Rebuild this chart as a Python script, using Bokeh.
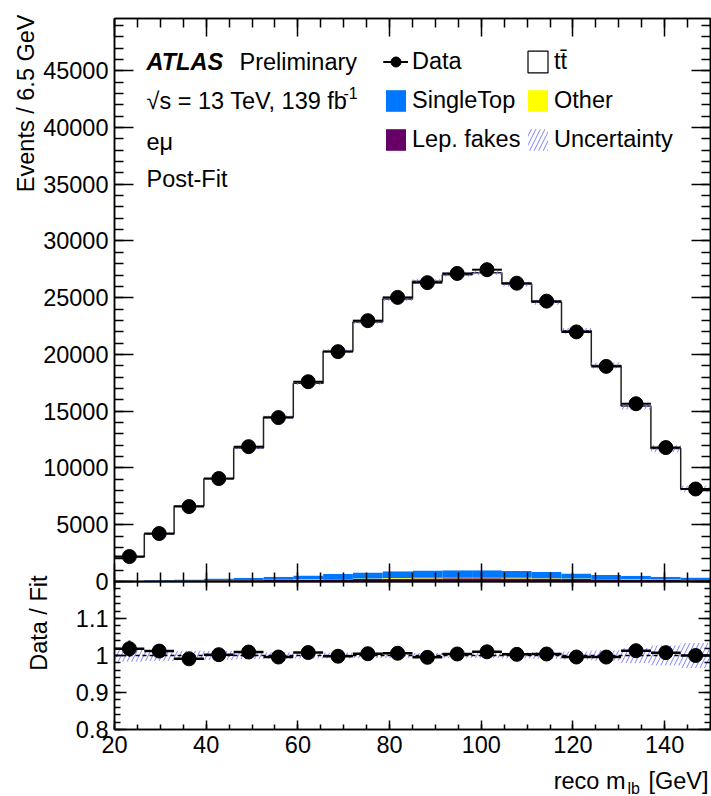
import numpy as np
from bokeh.plotting import figure
from bokeh.layouts import column
from bokeh.models import (Range1d, SingleIntervalTicker, LinearAxis, Label, Legend, LegendItem,
                          CustomJSTickFormatter, BasicTickFormatter, Span, ColumnDataSource, Title)
from bokeh.embed import file_html
from bokeh.resources import INLINE

# ---------------- data ----------------
bin_edges = [20.0, 26.5, 33.0, 39.5, 46.0, 52.5, 59.0, 65.5, 72.0, 78.5, 85.0,
             91.5, 98.0, 104.5, 111.0, 117.5, 124.0, 130.5, 137.0, 143.5, 150.0]
data_counts = [2200, 4225, 6600, 9070, 11880, 14440, 17600, 20250, 22980, 25030,
               26330, 27140, 27470, 26280, 24700, 21990, 18950, 15660, 11800, 8150]
ttbar = [2110, 4075, 6480, 8790, 11440, 14080, 16940, 19640, 22070, 23980,
         25480, 26030, 26200, 25280, 23770, 21380, 18450, 14960, 11290, 7800]
single_top = [20, 50, 100, 160, 200, 260, 320, 420, 530, 600,
              660, 670, 670, 600, 540, 440, 360, 310, 250, 210]
other = [10, 10, 20, 20, 30, 30, 40, 40, 50, 50,
         50, 50, 50, 50, 40, 40, 30, 30, 30, 20]
lep_fakes = [20, 40, 60, 80, 100, 130, 160, 190, 220, 250,
             270, 280, 280, 270, 250, 220, 190, 160, 140, 120]
rel_unc = [0.017, 0.015, 0.013, 0.012, 0.010, 0.009, 0.008, 0.008, 0.007, 0.007,
           0.007, 0.007, 0.007, 0.008, 0.009, 0.011, 0.014, 0.020, 0.027, 0.034]

# ---------------- style ----------------
FONT = "Liberation Sans"
FS = "23.5px"
FS_SMALL = "16px"
BLUE = "#0077ff"
YELLOW = "#ffff00"
PURPLE = "#660066"
HATCH = "#8080ff"

edges = np.array(bin_edges)
left = edges[:-1]
right = edges[1:]
centers = 0.5 * (left + right)
fk = np.array(lep_fakes, dtype=float)
ot = np.array(other, dtype=float)
st = np.array(single_top, dtype=float)
tt = np.array(ttbar, dtype=float)
d = np.array(data_counts, dtype=float)
unc = np.array(rel_unc)

b1 = fk
b2 = b1 + ot
b3 = b2 + st
total = b3 + tt
ratio = d / total
ratio_err = np.sqrt(d) / total

src = ColumnDataSource(dict(
    left=left, right=right, centers=centers, zero=np.zeros_like(total),
    fk_top=b1, ot_top=b2, st_top=b3, tot=total,
    data=d, d_lo=d - np.sqrt(d), d_hi=d + np.sqrt(d),
    band_lo=total * (1 - unc), band_hi=total * (1 + unc),
    ratio=ratio, r_lo=ratio - ratio_err, r_hi=ratio + ratio_err,
    rb_lo=1 - unc, rb_hi=1 + unc,
))


def make_axis(ticker, labels, tick_in, minor_in, formatter=None):
    ax = LinearAxis(ticker=ticker,
                    axis_line_color="black", axis_line_width=1.5,
                    major_tick_in=tick_in, major_tick_out=0,
                    minor_tick_in=minor_in, minor_tick_out=0,
                    major_tick_line_color="black", minor_tick_line_color="black",
                    major_tick_line_width=1.5, minor_tick_line_width=1.5,
                    major_label_text_font=FONT,
                    major_label_text_color="black")
    if labels:
        ax.major_label_text_font_size = FS
        ax.major_label_standoff = 6
        if formatter is not None:
            ax.formatter = formatter
    else:
        ax.major_label_text_font_size = "0px"
        ax.major_label_standoff = 0
        ax.formatter = CustomJSTickFormatter(code="return ''")
    return ax


def axis_title(text, offset, standoff):
    return Title(text=text, align="right", offset=offset, standoff=standoff,
                 text_font=FONT, text_font_size=FS, text_font_style="normal",
                 text_color="black")


# ---------------- main panel ----------------
p = figure(x_range=Range1d(20, 150), y_range=Range1d(0, 49600),
           frame_width=596, frame_height=563,
           min_border_left=114, min_border_right=1, min_border_top=18, min_border_bottom=14,
           x_axis_location=None, y_axis_location=None,
           toolbar_location=None, output_backend="svg")
p.grid.visible = False
p.outline_line_color = "black"
p.outline_line_width = 1.5
p.background_fill_color = "white"
p.border_fill_color = "white"

r_fk = p.quad(left="left", right="right", bottom="zero", top="fk_top", source=src,
              fill_color=PURPLE, line_color=None)
r_ot = p.quad(left="left", right="right", bottom="fk_top", top="ot_top", source=src,
              fill_color=YELLOW, line_color=None)
r_st = p.quad(left="left", right="right", bottom="ot_top", top="st_top", source=src,
              fill_color=BLUE, line_color=None)
r_tt = p.quad(left="left", right="right", bottom="st_top", top="tot", source=src,
              fill_color="white", line_color=None)
p.step(np.append(left, right[-1]), np.append(total, total[-1]), mode="after",
       line_color="#222222", line_width=1.5)
r_unc = p.quad(left="left", right="right", bottom="band_lo", top="band_hi", source=src,
               fill_alpha=0, line_color=None, hatch_pattern="/", hatch_color=HATCH,
               hatch_scale=9, hatch_weight=1)
r_dh = p.segment(x0="left", x1="right", y0="data", y1="data", source=src,
                 line_color="black", line_width=2)
r_dv = p.segment(x0="centers", x1="centers", y0="d_lo", y1="d_hi", source=src,
                 line_color="black", line_width=2)
r_d = p.scatter("centers", "data", source=src, size=14, color="black")
# legend-only box for ttbar (a single NaN row, nothing is drawn in the frame)
r_tt_leg = p.quad(left=[np.nan], right=[np.nan], bottom=[np.nan], top=[np.nan],
                  fill_color="white", line_color="black", line_width=1.2)

p.add_layout(make_axis(SingleIntervalTicker(interval=5000, num_minor_ticks=5), True, 19, 9,
                       BasicTickFormatter(use_scientific=False)), "left")
p.add_layout(make_axis(SingleIntervalTicker(interval=5000, num_minor_ticks=5), False, 19, 9), "right")
p.add_layout(make_axis(SingleIntervalTicker(interval=20, num_minor_ticks=4), False, 18, 9), "below")
p.add_layout(make_axis(SingleIntervalTicker(interval=20, num_minor_ticks=4), False, 18, 9), "above")
p.add_layout(axis_title("Events / 6.5 GeV", -4, 4), "left")

for lg_items, xloc in (
    ([LegendItem(label="Data", renderers=[r_dh, r_dv, r_d]),
      LegendItem(label="SingleTop", renderers=[r_st]),
      LegendItem(label="Lep. fakes", renderers=[r_fk])], 269),
    ([LegendItem(label="t\u0074\u0304", renderers=[r_tt_leg]),
      LegendItem(label="Other", renderers=[r_ot]),
      LegendItem(label="Uncertainty", renderers=[r_unc])], 411),
):
    leg = Legend(items=lg_items, location=(xloc, 428), glyph_width=25, glyph_height=27,
                 label_height=27, spacing=12, padding=0, margin=0, label_standoff=4,
                 border_line_color=None, background_fill_alpha=0,
                 label_text_font=FONT, label_text_font_size=FS, label_text_color="black")
    p.add_layout(leg)


def txt(fig, x, y, s, size=FS, style="normal", align="left", baseline="middle"):
    fig.add_layout(Label(x=x, y=y, x_units="screen", y_units="screen", text=s,
                         text_font=FONT, text_font_size=size, text_font_style=style,
                         text_align=align, text_baseline=baseline,
                         text_color="black"))


txt(p, 32, 520, "ATLAS", style="bold italic")
txt(p, 125, 520, "Preliminary")
txt(p, 32, 481, "\u221as = 13 TeV, 139 fb")
txt(p, 229, 489, "-1", size=FS_SMALL)
txt(p, 32, 440, "e\u03bc")
txt(p, 32, 403, "Post-Fit")

# ---------------- ratio panel ----------------
q = figure(x_range=p.x_range, y_range=Range1d(0.8, 1.2),
           frame_width=596, frame_height=148,
           min_border_left=114, min_border_right=1, min_border_top=14, min_border_bottom=36,
           x_axis_location=None, y_axis_location=None,
           toolbar_location=None, output_backend="svg",
           styles={"margin-top": "-28px"})
q.grid.visible = False
q.outline_line_color = "black"
q.outline_line_width = 1.5
q.background_fill_alpha = 0
q.border_fill_alpha = 0

q.quad(left="left", right="right", bottom="rb_lo", top="rb_hi", source=src,
       fill_alpha=0, line_color=None, hatch_pattern="/", hatch_color=HATCH,
       hatch_scale=9, hatch_weight=1)
q.add_layout(Span(location=1, dimension="width", line_color="black",
                  line_dash="4 3", line_width=1.5))
q.segment(x0="left", x1="right", y0="ratio", y1="ratio", source=src,
          line_color="black", line_width=2.5)
q.segment(x0="centers", x1="centers", y0="r_lo", y1="r_hi", source=src,
          line_color="black", line_width=2)
q.scatter("centers", "ratio", source=src, size=14, color="black")

ratio_fmt = CustomJSTickFormatter(
    code="if (tick > 1.15) { return ''; } return Number(tick.toFixed(2)).toString();")
q.add_layout(make_axis(SingleIntervalTicker(interval=0.1, num_minor_ticks=5), True, 12, 6,
                       ratio_fmt), "left")
q.add_layout(make_axis(SingleIntervalTicker(interval=0.1, num_minor_ticks=5), False, 12, 6), "right")
q.add_layout(make_axis(SingleIntervalTicker(interval=20, num_minor_ticks=4), True, 9, 5), "below")
q.add_layout(make_axis(SingleIntervalTicker(interval=20, num_minor_ticks=4), False, 9, 5), "above")
q.add_layout(axis_title("Data / Fit", -6, 42), "left")

# ---------------- x-axis title strip ----------------
t = figure(x_range=Range1d(0, 596), y_range=Range1d(0, 31),
           frame_width=596, frame_height=31,
           min_border_left=114, min_border_right=1, min_border_top=0, min_border_bottom=0,
           x_axis_location=None, y_axis_location=None,
           toolbar_location=None, output_backend="svg")
t.grid.visible = False
t.outline_line_color = None
t.background_fill_color = "white"
t.border_fill_color = "white"
txt(t, 511, 16, "reco m", align="right")
txt(t, 513, 8, "lb", size=FS_SMALL)
txt(t, 594, 16, "[GeV]", align="right")

layout = column(p, q, t, spacing=0)
open("out.html", "w").write(file_html(layout, INLINE))
